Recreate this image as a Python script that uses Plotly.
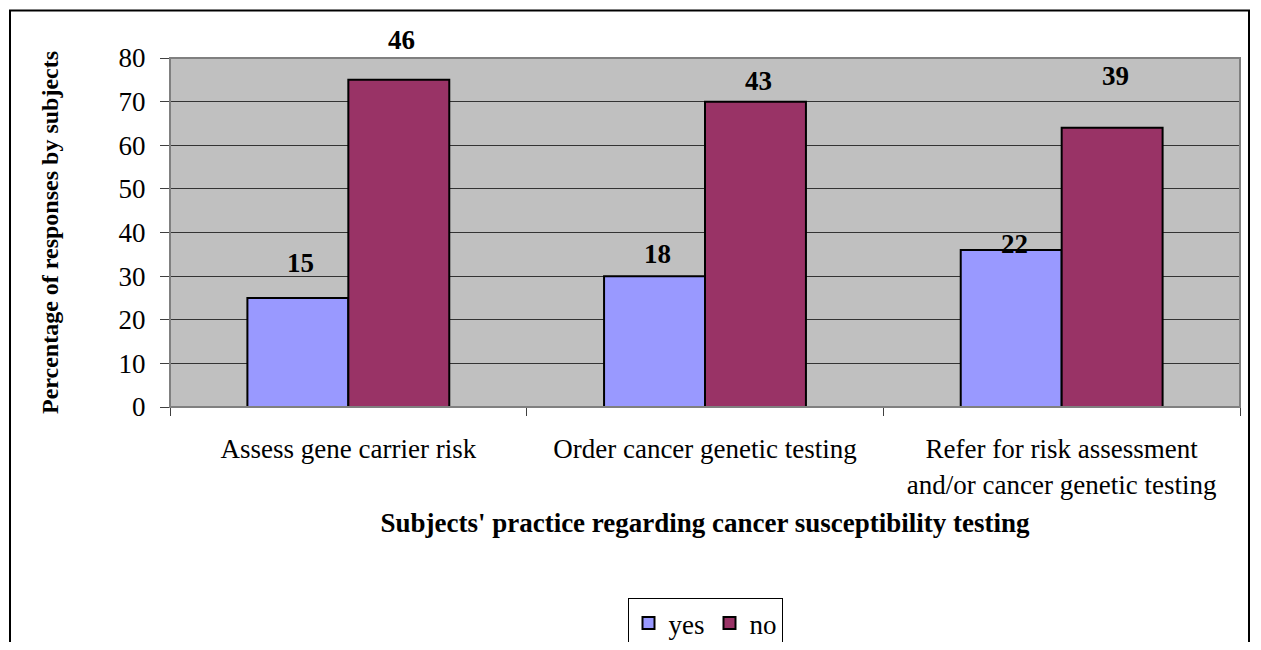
import plotly.graph_objects as go

categories = ["Assess gene carrier risk", "Order cancer genetic testing",
              "Refer for risk assessment<br>and/or cancer genetic testing"]
yes_pct = [25, 30, 36]
no_pct = [75, 70, 64]
yes_counts = [15, 18, 22]
no_counts = [46, 43, 39]
y_ticks = [0, 10, 20, 30, 40, 50, 60, 70, 80]

# style: pixel offsets of the count labels above the bar tops
yes_label_shift = [33, 20, 4]
no_label_shift = [38, 19, 50]

FONT = "Liberation Serif, Times New Roman, serif"

# page body has an 8px margin; figure sized so the chart lands where the reference has it
OFF = 8
W, H = 1261 - OFF, 650 - 2 * OFF
L, R, T = 170 - OFF, 21, 58 - OFF
B = H - (407 - OFF)
pw, ph = W - L - R, H - T - B

fig = go.Figure()
fig.add_trace(go.Bar(x=categories, y=yes_pct, name="yes",
                     marker=dict(color="#9999FF", line=dict(color="black", width=2))))
fig.add_trace(go.Bar(x=categories, y=no_pct, name="no",
                     marker=dict(color="#993366", line=dict(color="black", width=2))))

bargap = 0.434
bar_w_px = pw / len(categories) * (1 - bargap) / 2

for i, c in enumerate(categories):
    fig.add_annotation(x=c, y=yes_pct[i], text=str(yes_counts[i]), showarrow=False,
                       xshift=-bar_w_px / 2 + 3, yshift=yes_label_shift[i] + 2,
                       yanchor="middle",
                       font=dict(family=FONT, size=27, color="black", weight="bold"))
    fig.add_annotation(x=c, y=no_pct[i], text=str(no_counts[i]), showarrow=False,
                       xshift=bar_w_px / 2 + 3, yshift=no_label_shift[i] + 2,
                       yanchor="middle",
                       font=dict(family=FONT, size=27, color="black", weight="bold"))

# plot-area border (grey top/right)
fig.add_shape(type="rect", xref="x domain", yref="y domain", x0=0, x1=1, y0=0, y1=1,
              line=dict(color="#808080", width=2), layer="above")

# outer chart border (page coords -> paper coords)
def px_x(x):
    return (x - OFF - L) / pw

def px_y(y):
    return (T + ph - (y - OFF)) / ph

fig.add_shape(type="rect", xref="paper", yref="paper",
              x0=px_x(10), x1=px_x(1249), y0=px_y(680), y1=px_y(10.5),
              line=dict(color="black", width=2), layer="above")

fig.update_layout(
    width=W, height=H,
    margin=dict(l=L, r=R, t=T, b=B, autoexpand=False),
    paper_bgcolor="white", plot_bgcolor="#C0C0C0",
    barmode="group", bargap=bargap, bargroupgap=0,
    font=dict(family=FONT, color="black"),
    showlegend=True,
    legend=dict(orientation="h", x=0.5, xanchor="center",
                y=px_y(598), yanchor="top",
                bordercolor="black", borderwidth=1, bgcolor="white",
                font=dict(family=FONT, size=27, color="black"),
                itemwidth=30, traceorder="normal"),
)

fig.update_xaxes(
    type="category", showgrid=False, tickson="boundaries",
    ticks="outside", ticklen=8, tickcolor="#404040", tickwidth=1,
    showline=True, linecolor="#404040", linewidth=1,
    tickfont=dict(family=FONT, size=27, color="black"),
    ticklabelstandoff=18,
    title=dict(text="Subjects' practice regarding cancer susceptibility testing",
               font=dict(family=FONT, size=27, color="black", weight="bold"),
               standoff=14),
)
fig.update_yaxes(
    range=[0, 80], tickvals=y_ticks, showgrid=True, gridcolor="#333333", gridwidth=1,
    ticks="outside", ticklen=9, tickcolor="#404040", tickwidth=1,
    showline=True, linecolor="#404040", linewidth=1, zeroline=False,
    tickfont=dict(family=FONT, size=27, color="black"),
    ticklabelstandoff=9,
    title=dict(text="Percentage of responses by subjects",
               font=dict(family=FONT, size=24, color="black", weight="bold"),
               standoff=53),
)

fig.write_html("out.html")
